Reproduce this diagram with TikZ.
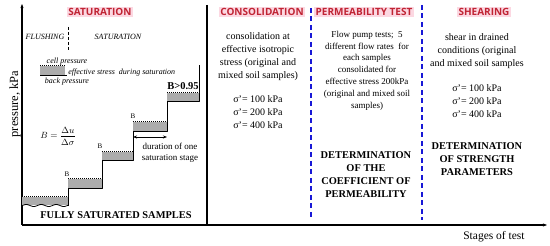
\documentclass[tikz,border=0pt]{standalone}
\usepackage{fontspec}
\setmainfont{Liberation Serif}
\newfontfamily\headfont{Open Sans}
\usetikzlibrary{arrows.meta,positioning}
\definecolor{headred}{RGB}{192,36,52}
\definecolor{headpink}{RGB}{252,216,226}
\definecolor{stepgray}{RGB}{172,172,172}
\definecolor{sepblue}{RGB}{24,24,214}
\begin{document}
\begin{tikzpicture}[x=1pt,y=-1pt,line join=round,>={Stealth[length=4pt,width=3pt]},thick]
	\tikzset{every node/.style={inner sep=0pt},
		head/.style={fill=headpink,text=headred,font=\headfont\bfseries\fontsize{10}{10}\selectfont,inner sep=1.2pt},
		txt/.style={font=\fontsize{10}{13}\selectfont,align=center},
		smalltxt/.style={font=\fontsize{9}{11.8}\selectfont,align=center},
		bigtxt/.style={font=\bfseries\fontsize{10.4}{13}\selectfont,align=center},
		note/.style={font=\itshape\fontsize{8}{8}\selectfont},
		stage/.style={fill=stepgray},
		sep/.style={sepblue,line width=1.6pt,dash pattern=on 5pt off 3.5pt}}
	\useasboundingbox (0,0) rectangle (550,246);
	% axes
	\coordinate (O) at (22,225);
	\coordinate (ytop) at (22,4);
	\coordinate (xend) at (547,225);
	\draw[->,line width=1.2pt] (O) -- (ytop);
	\draw[->,line width=1.6pt] (O) -- (xend);
	\node[rotate=90,font=\fontsize{12.5}{12.5}\selectfont] (ylab) at (15,104) {pressure, kPa};
	\node[font=\fontsize{11.5}{11.5}\selectfont] (xlab) at (494,237) {Stages of test};
	% stage separators
	\coordinate (s1) at (207,5);
	\coordinate (s1b) at (207,225);
	\draw[line width=1.2pt] (s1) -- (s1b);
	\foreach \sx/\stop in {311/8,422/5}
	\draw[sep] (\sx,\stop) -- (\sx,220);
	% headings
	\node[head] (hsat) at (100,12) {SATURATION};
	\node[head] (hcon) at (262,12) {CONSOLIDATION};
	\node[head] (hper) at (364,12) {PERMEABILITY TEST};
	\node[head] (hshe) at (484,12) {SHEARING};
	% saturation: flushing / saturation
	\node[note] (flush) at (45,37) {FLUSHING};
	\node[note] (satur) at (118,37) {SATURATION};
	\draw[densely dashed,line width=1pt] (68,27) -- (68,50);
	% legend
	\fill[stage] (40,66) rectangle (65,75);
	\draw[densely dotted,line width=1pt] (40,66) -- (65,66);
	\draw[line width=0.9pt] (40,75) -- (67,75);
	\node[note] (cellp) at (67,61.5) {cell pressure};
	\node[note,anchor=west] (effs) at (68,73) {effective stress\ \ during saturation};
	\node[note] (backp) at (67,82) {back pressure};
	% saturation stages
	\fill[stage] (22,197) rectangle (68,205);
	\draw[densely dotted,line width=1pt] (22,197) -- (68,197);
	\draw[domain=22:68,samples=50,variable=\x,line width=0.8pt] plot (\x,{205.5+1*sin(\x*24)});
	\draw[line width=1pt] (68,206) -- (68,179);
	\foreach \xa/\xb/\yt/\yb/\yn in {68/102/179/189/152, 102/133/152/161/122, 133/167/122/132/93, 167/199/93/102/65}{
		\fill[stage] (\xa,\yt) rectangle (\xb,\yb);
		\draw[densely dotted,line width=1pt] (\xa,\yt) -- (\xb,\yt);
		\draw[line width=1pt] (\xa,\yb) -- (\xb,\yb) -- (\xb,\yn);
	}
	\foreach \bx/\by in {67/174, 100/146, 133/116}
	\node[font=\fontsize{7}{7}\selectfont] at (\bx,\by) {B};
	\node[font=\bfseries\fontsize{10.5}{10.5}\selectfont] (bval) at (183,86) {B>0.95};
	\coordinate (da) at (133,137);
	\coordinate (db) at (167,137);
	\draw[<->,line width=0.8pt] (da) -- (db);
	\node[font=\fontsize{9}{11}\selectfont,align=center] (dur) at (170,152.5) {duration of one\\saturation stage};
	\node[font=\fontsize{9.5}{9.5}\selectfont] (bform) at (58,136) {$B=\displaystyle\frac{\Delta u}{\Delta\sigma}$};
	\node[bigtxt] (fully) at (116,215) {FULLY SATURATED SAMPLES};
	% consolidation
	\node[txt] (contxt) at (258,56.5) {consolidation at\\effective isotropic\\stress (original and\\mixed soil samples)};
	\node[txt] (consig) at (258,112.5) {σ’= 100 kPa\\σ’= 200 kPa\\σ’= 400 kPa};
	% permeability test
	\node[smalltxt] (pertxt) at (367,70.5) {Flow pump tests;\ \ 5\\different flow rates\ \ for\\each samples\\consolidated for\\effective stress 200kPa\\(original and mixed soil\\samples)};
	\node[bigtxt] (perdet) at (366,174.5) {DETERMINATION\\OF THE\\COEFFICIENT OF\\PERMEABILITY};
	% shearing
	\node[txt] (shetxt) at (477,51) {shear in drained\\conditions (original\\and mixed soil samples};
	\node[txt] (shesig) at (477,101.5) {σ’= 100 kPa\\σ’= 200 kPa\\σ’= 400 kPa};
	\node[bigtxt] (shedet) at (477,159) {DETERMINATION\\OF STRENGTH\\PARAMETERS};
\end{tikzpicture}
\end{document}
